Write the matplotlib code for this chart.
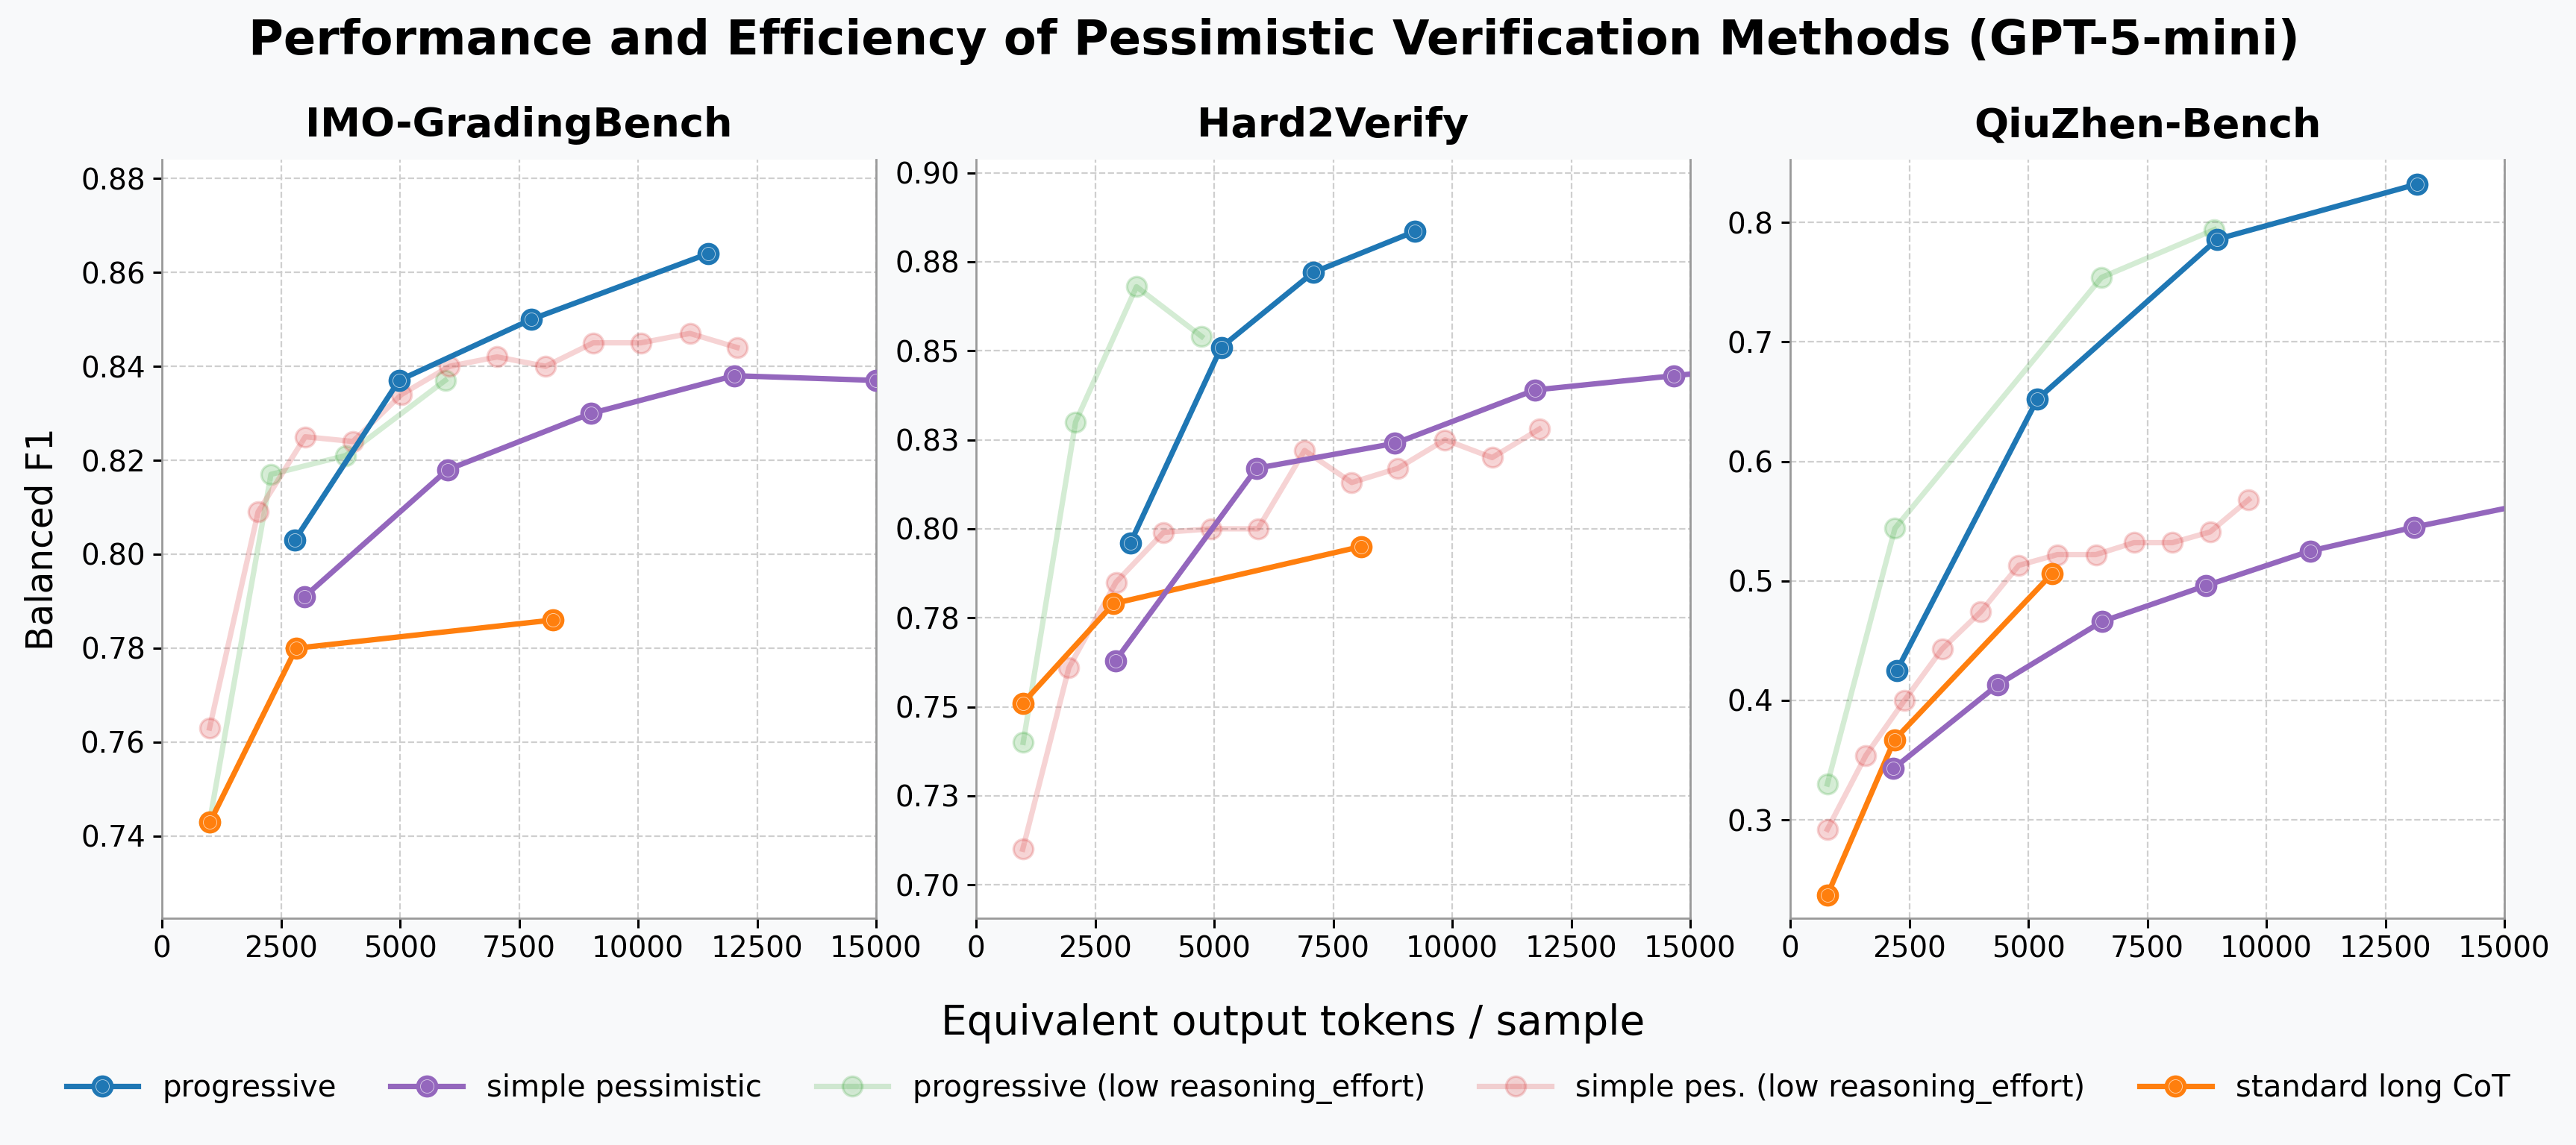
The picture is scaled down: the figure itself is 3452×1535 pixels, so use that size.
import matplotlib
matplotlib.use("Agg")
import matplotlib.pyplot as plt
from matplotlib.ticker import FixedLocator

# ---- data ----
PANELS = ["IMO-GradingBench", "Hard2Verify", "QiuZhen-Bench"]

# IMO-GradingBench
imo_prog_x = [2790, 4980, 7760, 11480]
imo_prog_y = [0.803, 0.837, 0.850, 0.864]
imo_simple_x = [3000, 6000, 9020, 12020, 15000]
imo_simple_y = [0.791, 0.818, 0.830, 0.838, 0.837]
imo_prog_low_x = [1000, 2290, 3860, 5950]
imo_prog_low_y = [0.743, 0.817, 0.821, 0.837]
imo_simple_low_x = [1000, 2020, 3010, 4010, 5030, 6040, 7040, 8060, 9060, 10060, 11090, 12080]
imo_simple_low_y = [0.763, 0.809, 0.825, 0.824, 0.834, 0.840, 0.842, 0.840, 0.845, 0.845, 0.847, 0.844]
imo_cot_x = [1010, 2820, 8220]
imo_cot_y = [0.743, 0.780, 0.786]

# Hard2Verify
h2v_prog_x = [3240, 5150, 7080, 9210]
h2v_prog_y = [0.796, 0.851, 0.872, 0.8835]
h2v_simple_x = [2930, 5890, 8800, 11740, 14660, 17600]
h2v_simple_y = [0.763, 0.817, 0.824, 0.839, 0.843, 0.847]
h2v_prog_low_x = [990, 2090, 3370, 4740]
h2v_prog_low_y = [0.740, 0.830, 0.868, 0.854]
h2v_simple_low_x = [980, 1950, 2940, 3940, 4930, 5920, 6900, 7890, 8860, 9850, 10840, 11830]
h2v_simple_low_y = [0.710, 0.761, 0.785, 0.799, 0.800, 0.800, 0.822, 0.813, 0.817, 0.825, 0.820, 0.828]
h2v_cot_x = [980, 2890, 8080]
h2v_cot_y = [0.751, 0.779, 0.795]

# QiuZhen-Bench
qz_prog_x = [2240, 5190, 8970, 13160]
qz_prog_y = [0.425, 0.652, 0.786, 0.832]
qz_simple_x = [2170, 4360, 6550, 8730, 10920, 13110, 15300]
qz_simple_y = [0.343, 0.413, 0.466, 0.496, 0.525, 0.545, 0.563]
qz_prog_low_x = [780, 2200, 6540, 8910]
qz_prog_low_y = [0.330, 0.544, 0.754, 0.794]
qz_simple_low_x = [780, 1590, 2400, 3190, 4000, 4800, 5610, 6420, 7220, 8030, 8820, 9630]
qz_simple_low_y = [0.292, 0.354, 0.400, 0.443, 0.474, 0.513, 0.522, 0.522, 0.532, 0.532, 0.541, 0.568]
qz_cot_x = [780, 2190, 5500]
qz_cot_y = [0.237, 0.367, 0.506]

SERIES_LABELS = [
    "progressive",
    "simple pessimistic",
    "progressive (low reasoning_effort)",
    "simple pes. (low reasoning_effort)",
    "standard long CoT",
]

X_TICKS = [0, 2500, 5000, 7500, 10000, 12500, 15000]
IMO_Y_TICKS = [0.74, 0.76, 0.78, 0.80, 0.82, 0.84, 0.86, 0.88]
IMO_Y_LABELS = ["0.74", "0.76", "0.78", "0.80", "0.82", "0.84", "0.86", "0.88"]
H2V_Y_TICKS = [0.700, 0.725, 0.750, 0.775, 0.800, 0.825, 0.850, 0.875, 0.900]
H2V_Y_LABELS = ["0.70", "0.73", "0.75", "0.78", "0.80", "0.83", "0.85", "0.88", "0.90"]
QZ_Y_TICKS = [0.3, 0.4, 0.5, 0.6, 0.7, 0.8]
QZ_Y_LABELS = ["0.3", "0.4", "0.5", "0.6", "0.7", "0.8"]

# ---- style ----
COLORS = ["#1f77b4", "#9467bd", "#2ca02c", "#d62728", "#ff7f0e"]
ALPHAS = [1.0, 1.0, 0.2, 0.2, 1.0]
ZORDERS = [5, 4, 2, 2, 3]
FIG_BG = "#f8f9fa"
SPINE_GRAY = "#999999"


def draw_series(ax, x, y, color, alpha, zorder):
    """Line with round markers and a faint white inner ring."""
    line, = ax.plot(x, y, "-o", color=color, lw=2.6, ms=9.5, mfc=color, mec=color,
                    mew=1.2, alpha=alpha, zorder=zorder)
    ring, = ax.plot(x, y, "o", ls="none", ms=6.5, mfc="none", mec="white",
                    mew=0.35, alpha=alpha * 0.6, zorder=zorder + 0.1)
    return (line, ring)


def style_axes(ax):
    ax.set_facecolor("white")
    ax.spines["top"].set_visible(False)
    for side in ["left", "bottom", "right"]:
        ax.spines[side].set_color(SPINE_GRAY)
        ax.spines[side].set_linewidth(1.0)
    ax.grid(True, linestyle="--", color="#cfcfcf", linewidth=0.8)
    ax.set_axisbelow(True)
    ax.tick_params(axis="both", labelsize=14, length=4.5, width=1.1, color="black")
    ax.set_xlim(0, 15000)
    ax.xaxis.set_major_locator(FixedLocator(X_TICKS))
    ax.set_xticklabels([str(t) for t in X_TICKS])


fig = plt.figure(figsize=(17.26, 7.675), dpi=200, facecolor=FIG_BG)

left_px = [217, 1308, 2399]
axes = [fig.add_axes([lp / 3452, 0.198, 957 / 3452, 0.6626]) for lp in left_px]

panel_data = [
    [(imo_prog_x, imo_prog_y), (imo_simple_x, imo_simple_y), (imo_prog_low_x, imo_prog_low_y),
     (imo_simple_low_x, imo_simple_low_y), (imo_cot_x, imo_cot_y)],
    [(h2v_prog_x, h2v_prog_y), (h2v_simple_x, h2v_simple_y), (h2v_prog_low_x, h2v_prog_low_y),
     (h2v_simple_low_x, h2v_simple_low_y), (h2v_cot_x, h2v_cot_y)],
    [(qz_prog_x, qz_prog_y), (qz_simple_x, qz_simple_y), (qz_prog_low_x, qz_prog_low_y),
     (qz_simple_low_x, qz_simple_low_y), (qz_cot_x, qz_cot_y)],
]
y_limits = [(0.7225, 0.884), (0.6906, 0.9037), (0.2176, 0.8526)]
y_ticks = [(IMO_Y_TICKS, IMO_Y_LABELS), (H2V_Y_TICKS, H2V_Y_LABELS), (QZ_Y_TICKS, QZ_Y_LABELS)]

handles = []
for i, ax in enumerate(axes):
    style_axes(ax)
    for j, (x, y) in enumerate(panel_data[i]):
        h = draw_series(ax, x, y, COLORS[j], ALPHAS[j], ZORDERS[j])
        if i == 0:
            handles.append(h)
    ax.set_ylim(*y_limits[i])
    ax.yaxis.set_major_locator(FixedLocator(y_ticks[i][0]))
    ax.set_yticklabels(y_ticks[i][1])
    ax.set_title(PANELS[i], fontsize=19.5, fontweight="bold", pad=11)

axes[0].set_ylabel("Balanced F1", fontsize=17.5, labelpad=10)

fig.text(0.4945, 0.964, "Performance and Efficiency of Pessimistic Verification Methods (GPT-5-mini)",
         ha="center", va="center", fontsize=23, fontweight="bold")
fig.text(0.502, 0.106, "Equivalent output tokens / sample", ha="center", va="center", fontsize=19.8)

fig.legend(handles, SERIES_LABELS, loc="center", bbox_to_anchor=(0.5, 0.049), ncol=5,
           frameon=False, fontsize=14.5, handlelength=2.4, columnspacing=1.8)

fig.savefig("out.png", dpi=200, facecolor=FIG_BG)
